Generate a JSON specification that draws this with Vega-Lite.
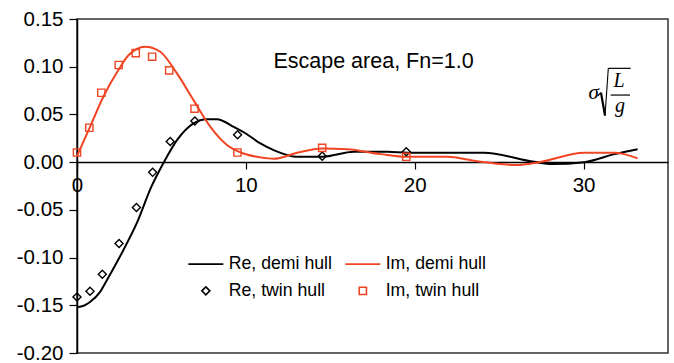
{
  "$schema": "https://vega.github.io/schema/vega-lite/v6.json",
  "width": 591,
  "height": 334,
  "autosize": "none",
  "padding": {"left": 77, "top": 19, "right": 6, "bottom": 10},
  "background": "white",
  "config": {
    "font": "Liberation Sans",
    "view": {"stroke": "#333", "strokeWidth": 1.5},
    "axis": {"grid": false, "domainColor": "black", "domainWidth": 1.5, "tickColor": "black", "tickWidth": 1.2, "labelColor": "black", "labelFont": "Liberation Sans", "labelFontSize": 20.5, "title": null, "labelFlush": false}
  },
  "datasets": {
    "curves": [
      {"series": "Re, demi hull", "x": 0, "y": -0.152},
      {"series": "Re, demi hull", "x": 0.4, "y": -0.1505},
      {"series": "Re, demi hull", "x": 0.77, "y": -0.1466},
      {"series": "Re, demi hull", "x": 1.37, "y": -0.136},
      {"series": "Re, demi hull", "x": 1.76, "y": -0.124},
      {"series": "Re, demi hull", "x": 2.75, "y": -0.092},
      {"series": "Re, demi hull", "x": 3.54, "y": -0.064},
      {"series": "Re, demi hull", "x": 4.4, "y": -0.026},
      {"series": "Re, demi hull", "x": 5.12, "y": -0.001},
      {"series": "Re, demi hull", "x": 5.92, "y": 0.023},
      {"series": "Re, demi hull", "x": 6.9, "y": 0.0406},
      {"series": "Re, demi hull", "x": 7.7, "y": 0.045},
      {"series": "Re, demi hull", "x": 8.28, "y": 0.045},
      {"series": "Re, demi hull", "x": 9.28, "y": 0.037},
      {"series": "Re, demi hull", "x": 10.0, "y": 0.03},
      {"series": "Re, demi hull", "x": 10.86, "y": 0.0196},
      {"series": "Re, demi hull", "x": 11.65, "y": 0.0126},
      {"series": "Re, demi hull", "x": 13.04, "y": 0.0056},
      {"series": "Re, demi hull", "x": 14.52, "y": 0.0056},
      {"series": "Re, demi hull", "x": 16.4, "y": 0.0108},
      {"series": "Re, demi hull", "x": 18.38, "y": 0.0108},
      {"series": "Re, demi hull", "x": 19.57, "y": 0.0098},
      {"series": "Re, demi hull", "x": 24.1, "y": 0.0098},
      {"series": "Re, demi hull", "x": 27.08, "y": 0.0003},
      {"series": "Re, demi hull", "x": 28.1, "y": -0.002},
      {"series": "Re, demi hull", "x": 30.05, "y": 0.0},
      {"series": "Re, demi hull", "x": 31.83, "y": 0.0084},
      {"series": "Re, demi hull", "x": 33.2, "y": 0.0136},
      {"series": "Im, demi hull", "x": 0, "y": 0.0063},
      {"series": "Im, demi hull", "x": 0.77, "y": 0.037},
      {"series": "Im, demi hull", "x": 1.56, "y": 0.0685},
      {"series": "Im, demi hull", "x": 2.45, "y": 0.0965},
      {"series": "Im, demi hull", "x": 3.05, "y": 0.112},
      {"series": "Im, demi hull", "x": 4.04, "y": 0.121},
      {"series": "Im, demi hull", "x": 4.93, "y": 0.1157},
      {"series": "Im, demi hull", "x": 5.92, "y": 0.093},
      {"series": "Im, demi hull", "x": 6.9, "y": 0.065},
      {"series": "Im, demi hull", "x": 7.9, "y": 0.037},
      {"series": "Im, demi hull", "x": 8.88, "y": 0.018},
      {"series": "Im, demi hull", "x": 9.87, "y": 0.009},
      {"series": "Im, demi hull", "x": 10.86, "y": 0.005},
      {"series": "Im, demi hull", "x": 11.65, "y": 0.0035},
      {"series": "Im, demi hull", "x": 13.04, "y": 0.0098},
      {"series": "Im, demi hull", "x": 14.52, "y": 0.0143},
      {"series": "Im, demi hull", "x": 16.0, "y": 0.0136},
      {"series": "Im, demi hull", "x": 17.98, "y": 0.0084},
      {"series": "Im, demi hull", "x": 19.57, "y": 0.0056},
      {"series": "Im, demi hull", "x": 21.94, "y": 0.0056},
      {"series": "Im, demi hull", "x": 23.52, "y": 0.0014},
      {"series": "Im, demi hull", "x": 26.1, "y": -0.003},
      {"series": "Im, demi hull", "x": 27.3, "y": -0.0003},
      {"series": "Im, demi hull", "x": 30.05, "y": 0.0098},
      {"series": "Im, demi hull", "x": 31.83, "y": 0.0098},
      {"series": "Im, demi hull", "x": 33.2, "y": 0.004}
    ],
    "points": [
      {"series": "Re, twin hull", "x": 0, "y": -0.1413},
      {"series": "Re, twin hull", "x": 0.77, "y": -0.1353},
      {"series": "Re, twin hull", "x": 1.5, "y": -0.1175},
      {"series": "Re, twin hull", "x": 2.49, "y": -0.0853},
      {"series": "Re, twin hull", "x": 3.52, "y": -0.0476},
      {"series": "Re, twin hull", "x": 4.48, "y": -0.0107},
      {"series": "Re, twin hull", "x": 5.52, "y": 0.0217},
      {"series": "Re, twin hull", "x": 6.98, "y": 0.043},
      {"series": "Re, twin hull", "x": 9.51, "y": 0.0287},
      {"series": "Re, twin hull", "x": 14.52, "y": 0.0063},
      {"series": "Re, twin hull", "x": 19.5, "y": 0.0108},
      {"series": "Im, twin hull", "x": 0, "y": 0.0101},
      {"series": "Im, twin hull", "x": 0.73, "y": 0.036},
      {"series": "Im, twin hull", "x": 1.44, "y": 0.0727},
      {"series": "Im, twin hull", "x": 2.47, "y": 0.1018},
      {"series": "Im, twin hull", "x": 3.48, "y": 0.1143},
      {"series": "Im, twin hull", "x": 4.45, "y": 0.1105},
      {"series": "Im, twin hull", "x": 5.46, "y": 0.0962},
      {"series": "Im, twin hull", "x": 6.96, "y": 0.056},
      {"series": "Im, twin hull", "x": 9.5, "y": 0.0101},
      {"series": "Im, twin hull", "x": 14.52, "y": 0.015},
      {"series": "Im, twin hull", "x": 19.5, "y": 0.0056}
    ],
    "note": [{"k": 1}]
  },
  "layer": [
    {
      "data": {"name": "curves"},
      "mark": {"type": "line", "strokeWidth": 2, "interpolate": "monotone"},
      "encoding": {
        "x": {"field": "x", "type": "quantitative", "scale": {"domain": [0, 35], "nice": false, "zero": false},
          "axis": {"orient": "bottom", "offset": -191, "values": [0, 10, 20, 30], "tickSize": 7, "labelPadding": 6, "format": "d"}},
        "y": {"field": "y", "type": "quantitative", "scale": {"domain": [-0.2, 0.15], "nice": false},
          "axis": {"values": [-0.2, -0.15, -0.1, -0.05, 0, 0.05, 0.1, 0.15], "tickSize": 8, "labelPadding": 6, "labelExpr": "replace(format(datum.value, '.2f'), '\u2212', '-')"}},
        "color": {"field": "series", "type": "nominal",
          "scale": {"domain": ["Re, demi hull", "Im, demi hull", "Re, twin hull", "Im, twin hull"], "range": ["black", "#f04423", "black", "#f04423"]}}
      }
    },
    {
      "data": {"name": "points"},
      "mark": {"type": "point", "filled": false, "strokeWidth": 1.4, "size": 136, "opacity": 1},
      "encoding": {
        "x": {"field": "x", "type": "quantitative"},
        "y": {"field": "y", "type": "quantitative"},
        "color": {"field": "series", "type": "nominal",
          "legend": {"title": null, "orient": "none", "direction": "horizontal", "legendX": 120, "legendY": 236, "columns": 2, "columnPadding": 10, "rowPadding": 8, "padding": 0,
            "labelFont": "Liberation Sans", "labelFontSize": 17.7, "labelColor": "black", "labelOffset": 14, "symbolSize": 136, "symbolStrokeWidth": 1.6,
            "symbolFillColor": "transparent"}},
        "shape": {"field": "series", "type": "nominal",
          "scale": {"domain": ["Re, demi hull", "Im, demi hull", "Re, twin hull", "Im, twin hull"],
            "range": ["M-3,0H3", "M-3,0H3", "M0,-0.69L0.69,0L0,0.69L-0.69,0Z", "M-0.62,-0.62H0.62V0.62H-0.62Z"]}}
      }
    },
    {
      "data": {"name": "note"},
      "mark": {"type": "text", "text": "Escape area, Fn=1.0", "fontSize": 21.5, "font": "Liberation Sans", "align": "center", "baseline": "middle", "color": "black"},
      "encoding": {"x": {"datum": 17.56, "type": "quantitative"}, "y": {"datum": 0.105, "type": "quantitative"}}
    },
    {
      "data": {"name": "note"},
      "mark": {"type": "text", "text": "σ", "fontSize": 21, "font": "Liberation Serif", "fontStyle": "italic", "align": "center", "baseline": "middle", "color": "black"},
      "encoding": {"x": {"datum": 30.6, "type": "quantitative"}, "y": {"datum": 0.0729, "type": "quantitative"}}
    },
    {
      "data": {"name": "note"},
      "mark": {"type": "rule", "color": "black", "strokeWidth": 1.2},
      "encoding": {"x": {"datum": 30.83, "type": "quantitative"}, "x2": {"datum": 31.03}, "y": {"datum": 0.0693, "type": "quantitative"}, "y2": {"datum": 0.0729}}
    },
    {
      "data": {"name": "note"},
      "mark": {"type": "rule", "color": "black", "strokeWidth": 2.2},
      "encoding": {"x": {"datum": 31.03, "type": "quantitative"}, "x2": {"datum": 31.27}, "y": {"datum": 0.0729, "type": "quantitative"}, "y2": {"datum": 0.0488}}
    },
    {
      "data": {"name": "note"},
      "mark": {"type": "rule", "color": "black", "strokeWidth": 1.1},
      "encoding": {"x": {"datum": 31.27, "type": "quantitative"}, "x2": {"datum": 31.465}, "y": {"datum": 0.0488, "type": "quantitative"}, "y2": {"datum": 0.0983}}
    },
    {
      "data": {"name": "note"},
      "mark": {"type": "rule", "color": "black", "strokeWidth": 1.2},
      "encoding": {"x": {"datum": 31.465, "type": "quantitative"}, "x2": {"datum": 32.79}, "y": {"datum": 0.0983, "type": "quantitative"}}
    },
    {
      "data": {"name": "note"},
      "mark": {"type": "text", "text": "L", "fontSize": 20, "font": "Liberation Serif", "fontStyle": "italic", "align": "center", "baseline": "middle", "color": "black"},
      "encoding": {"x": {"datum": 32.1, "type": "quantitative"}, "y": {"datum": 0.0855, "type": "quantitative"}}
    },
    {
      "data": {"name": "note"},
      "mark": {"type": "rule", "color": "black", "strokeWidth": 1.2},
      "encoding": {"x": {"datum": 31.6, "type": "quantitative"}, "x2": {"datum": 32.75}, "y": {"datum": 0.0703, "type": "quantitative"}}
    },
    {
      "data": {"name": "note"},
      "mark": {"type": "text", "text": "g", "fontSize": 20, "font": "Liberation Serif", "fontStyle": "italic", "align": "center", "baseline": "middle", "color": "black"},
      "encoding": {"x": {"datum": 32.16, "type": "quantitative"}, "y": {"datum": 0.0585, "type": "quantitative"}}
    }
  ]
}
